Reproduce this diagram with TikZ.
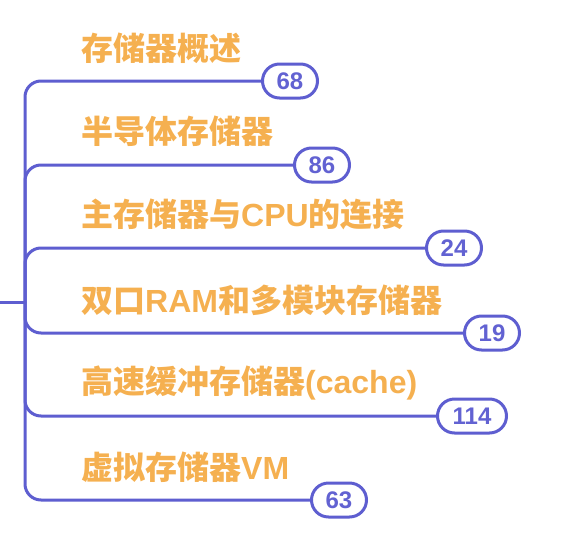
\documentclass[tikz,border=0pt]{standalone}
\usepackage{fontspec}
\setmainfont{Liberation Sans}
\newfontfamily\cjk{Noto Sans CJK SC}
\definecolor{linec}{RGB}{94,94,208}
\definecolor{numc}{RGB}{98,98,210}
\definecolor{labc}{RGB}{245,176,80}
\begin{document}
\begin{tikzpicture}[x=1pt,y=-1pt,
  lab/.style={anchor=west, text=labc, font=\fontsize{32}{32}\selectfont\bfseries, inner sep=0pt},
  pill/.style={draw=linec, line width=3pt, rounded corners=17pt, minimum height=34pt, minimum width=55pt, text=numc, font=\fontsize{24}{24}\selectfont\bfseries, inner sep=0pt, fill=white},
  conn/.style={draw=linec, line width=3pt, rounded corners=16pt}]
\useasboundingbox (0,0) rectangle (576,544);
\coordinate (stub) at (0,302);
\coordinate (root) at (25,302);
% labels
\node[lab] (l1) at (81,48) {\cjk 存储器概述};
\node[lab] (l2) at (81,131) {\cjk 半导体存储器};
\node[lab] (l3) at (81,214) {{\cjk 主存储器与}CPU{\cjk 的连接}};
\node[lab] (l4) at (81,300) {{\cjk 双口}RAM{\cjk 和多模块存储器}};
\node[lab] (l5) at (81,383) {{\cjk 高速缓冲存储器}(cache)};
\node[lab] (l6) at (81,467) {{\cjk 虚拟存储器}VM};
% pills
\node[pill] (p1) at (290,81) {68};
\node[pill] (p2) at (322,165) {86};
\node[pill] (p3) at (454,248) {24};
\node[pill] (p4) at (492,333) {19};
\node[pill, minimum width=69pt] (p5) at (472,416) {114};
\node[pill] (p6) at (339,500) {63};
% connectors
\draw[conn] (stub) -- (root);
\foreach \p in {p1,p2,p3,p4,p5,p6} {
  \draw[conn] (root) |- (\p.west);
}
\end{tikzpicture}
\end{document}
